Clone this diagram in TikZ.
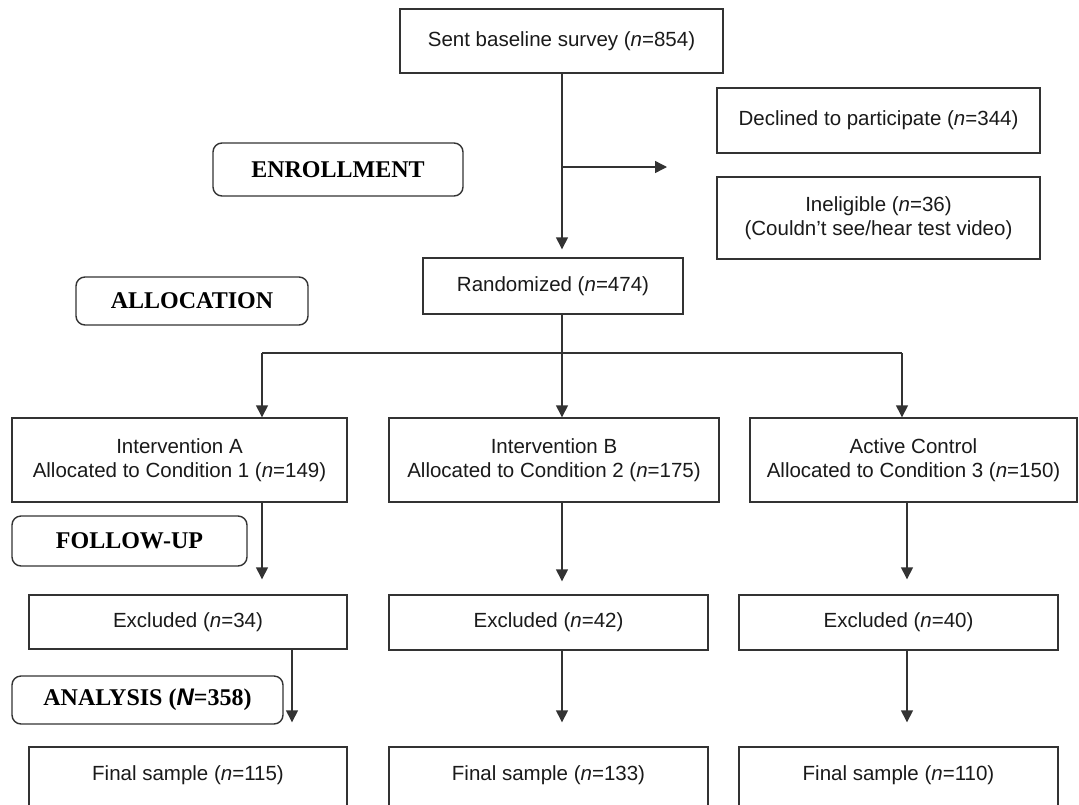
\documentclass[tikz,border=0pt]{standalone}
\usepackage{fontspec}
\setmainfont{Liberation Sans}
\newfontfamily\stagefont{Liberation Serif}
\usetikzlibrary{arrows.meta}
\definecolor{linec}{HTML}{333333}
\definecolor{txt}{HTML}{1A1A1A}
\begin{document}
\begin{tikzpicture}[x=1pt,y=-1pt,
  box/.style={draw=linec, line width=1.4pt, rectangle, inner sep=0pt, align=center,
    font=\fontsize{20.5}{23.6}\selectfont, text=txt},
  stage/.style={draw=linec, line width=1.4pt, rounded corners=9pt, inner sep=0pt,
    font=\stagefont\bfseries\fontsize{24}{28}\selectfont, text=black},
  finalbox/.style={box, minimum width=318pt, minimum height=68pt, text height=15pt, text depth=17pt},
  conn/.style={draw=linec, line width=1.4pt},
  arr/.style={conn, -{Triangle[width=12pt,length=12pt]}}]
\useasboundingbox (0,0) rectangle (1079,804);
\clip (0,0) rectangle (1079,804);
\fill[white] (0,0) rectangle (1079,804);

% nodes
\node[box, minimum width=323pt, minimum height=64pt] (top) at (561.5,41) {Sent baseline survey (\textit{n}=854)};
\node[box, minimum width=323pt, minimum height=65pt] (decl) at (878.5,120.5) {Declined to participate (\textit{n}=344)};
\node[box, minimum width=323pt, minimum height=82pt] (inel) at (878.5,218) {Ineligible (\textit{n}=36)\\(Couldn’t see/hear test video)};
\node[stage, minimum width=250pt, minimum height=53pt] (enroll) at (338,169.5) {ENROLLMENT};
\node[box, minimum width=260pt, minimum height=56pt] (rand) at (553,286) {Randomized (\textit{n}=474)};
\node[stage, minimum width=232pt, minimum height=48pt] (alloc) at (192,301) {ALLOCATION};

\node[box, minimum width=335pt, minimum height=84pt] (A) at (179.5,460) {Intervention A\\Allocated to Condition 1 (\textit{n}=149)};
\node[box, minimum width=330pt, minimum height=84pt] (B) at (554,460) {Intervention B\\Allocated to Condition 2 (\textit{n}=175)};
\node[box, minimum width=327pt, minimum height=84pt] (C) at (913.5,460) {Active Control\\Allocated to Condition 3 (\textit{n}=150)};

\node[stage, minimum width=235pt, minimum height=50pt] (follow) at (129.5,541) {FOLLOW-UP};

\node[box, minimum width=318pt, minimum height=54pt] (exA) at (188,622) {Excluded (\textit{n}=34)};
\node[box, minimum width=319pt, minimum height=55pt] (exB) at (548.5,622.5) {Excluded (\textit{n}=42)};
\node[box, minimum width=319pt, minimum height=55pt] (exC) at (898.5,622.5) {Excluded (\textit{n}=40)};

\node[stage, minimum width=271pt, minimum height=48pt] (anal) at (147.5,700) {ANALYSIS ({\fontspec{Liberation Sans}\bfseries\itshape N}=358)};

\node[finalbox] (finA) at (188,781) {Final sample (\textit{n}=115)};
\node[finalbox, minimum width=319pt] (finB) at (548.5,781) {Final sample (\textit{n}=133)};
\node[finalbox, minimum width=319pt] (finC) at (898.5,781) {Final sample (\textit{n}=110)};

% coordinates
\coordinate (br) at (562,167);
\coordinate (brEnd) at (667,167);
\coordinate (split) at (562,353);
\coordinate (sL) at (262,353);
\coordinate (sR) at (902,353);
\coordinate (xa) at (292,0);
\coordinate (xc) at (907,0);

% connectors
\draw[arr, shorten >=8pt] (top.south -| split) -- (rand.north -| split);
\draw[arr] (br) -- (brEnd);
\draw[conn] (rand.south -| split) -- (split);
\draw[conn] (sL) -- (sR);
\draw[arr] (sL) -- (sL |- A.north);
\draw[arr] (split) -- (split |- B.north);
\draw[arr] (sR) -- (sR |- C.north);

\draw[arr, shorten >=15pt] (A.south -| sL) -- (exA.north -| sL);
\draw[arr, shorten >=13pt] (B.south -| split) -- (exB.north -| split);
\draw[arr, shorten >=15pt] (C.south -| xc) -- (exC.north -| xc);

\draw[arr, shorten >=24pt] (exA.south -| xa) -- (finA.north -| xa);
\draw[arr, shorten >=24pt] (exB.south -| split) -- (finB.north -| split);
\draw[arr, shorten >=24pt] (exC.south -| xc) -- (finC.north -| xc);
\end{tikzpicture}
\end{document}
